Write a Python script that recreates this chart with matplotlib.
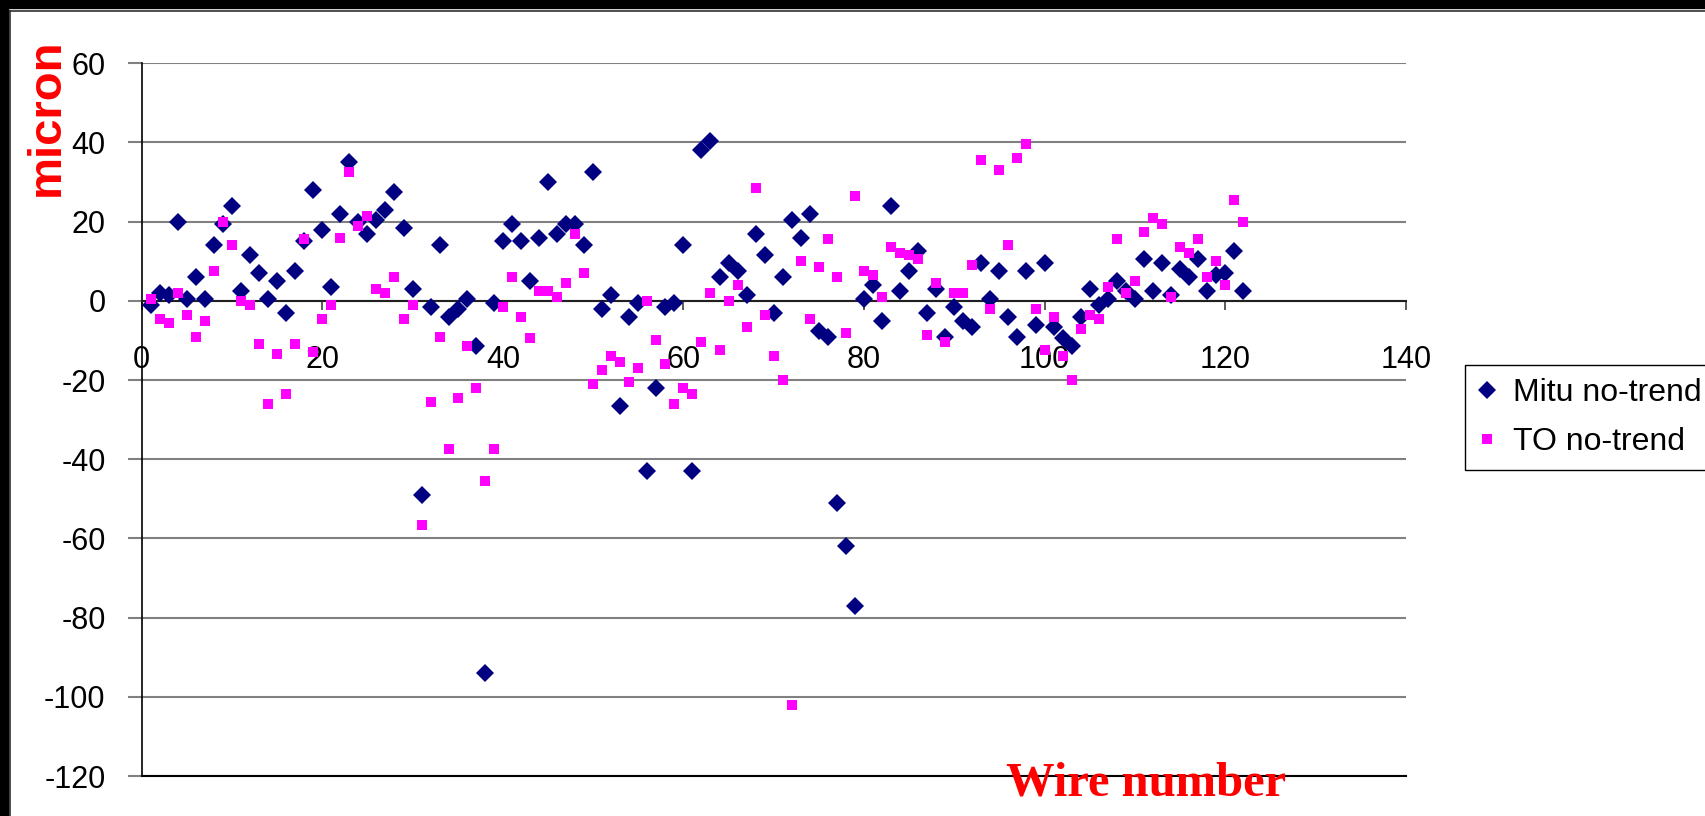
import numpy as np
import matplotlib.pyplot as plt
from matplotlib.patches import Rectangle
from matplotlib.lines import Line2D

plt.rcParams['font.family'] = ['Liberation Sans', 'DejaVu Sans']
plt.rcParams['axes.unicode_minus'] = False

# wire index and residuals (micron) after trend removal
wire = np.arange(1, 123)

mitu = [-1, 2, 1.5, 20, 0.5, 6, 0.5, 14, 19.5, 24,
        2.5, 11.5, 7, 0.5, 5, -3, 7.5, 15, 28, 18,
        3.5, 22, 35, 20, 17, 20.5, 23, 27.5, 18.5, 3,
        -49, -1.5, 14, -4, -2, 0.5, -11.5, -94, -0.5, 15,
        19.5, 15, 5, 16, 30, 17, 19.5, 19.5, 14, 32.5,
        -2, 1.5, -26.5, -4, -0.5, -43, -22, -1.5, -0.5, 14,
        -43, 38, 40.5, 6, 9.5, 7.5, 1.5, 17, 11.5, -3,
        6, 20.5, 16, 22, -7.5, -9, -51, -62, -77, 0.5,
        4, -5, 24, 2.5, 7.5, 12.5, -3, 3, -9, -1.5,
        -5, -6.5, 9.5, 0.5, 7.5, -4, -9, 7.5, -6, 9.5,
        -6.5, -9.5, -11.5, -4, 3, -1, 0.5, 5, 2.5, 0.5,
        10.5, 2.5, 9.5, 1.5, 8, 6, 10.5, 2.5, 6.5, 7,
        12.5, 2.5]

to = [0.5, -4.5, -5.5, 2, -3.5, -9, -5, 7.5, 20, 14,
      0, -1, -11, -26, -13.5, -23.5, -11, 15.5, -13, -4.5,
      -1, 16, 32.5, 19, 21.5, 3, 2, 6, -4.5, -1,
      -56.5, -25.5, -9, -37.5, -24.5, -11.5, -22, -45.5, -37.5, -1.5,
      6, -4, -9.5, 2.5, 2.5, 1, 4.5, 17, 7, -21,
      -17.5, -14, -15.5, -20.5, -17, 0, -10, -16, -26, -22,
      -23.5, -10.5, 2, -12.5, 0, 4, -6.5, 28.5, -3.5, -14,
      -20, -102, 10, -4.5, 8.5, 15.5, 6, -8, 26.5, 7.5,
      6.5, 1, 13.5, 12, 11.5, 10.5, -8.5, 4.5, -10.5, 2,
      2, 9, 35.5, -2, 33, 14, 36, 39.5, -2, -12.5,
      -4, -14, -20, -7, -3.5, -4.5, 3.5, 15.5, 2, 5,
      17.5, 21, 19.5, 1, 13.5, 12, 15.5, 6, 10, 4,
      25.5, 20]

W, H = 1706, 816
fig = plt.figure(figsize=(W / 100, H / 100), dpi=100)
ax = fig.add_axes([141.7 / W, 40 / H, 1264 / W, 712.7 / H])

ax.plot(wire, mitu, 'D', color='#000080', ms=9.5, mew=0, label='Mitu no-trend', zorder=3)
ax.plot(wire, to, 's', color='#ff00ff', ms=7.5, mew=0, label='TO no-trend', zorder=3)

ax.set_xlim(0, 140)
ax.set_ylim(-120, 60)
ax.set_xticks(range(0, 141, 20))
ax.set_yticks(range(-120, 61, 20))

ax.spines['top'].set_visible(False)
ax.spines['right'].set_visible(False)
ax.spines['bottom'].set_position(('data', 0))
ax.spines['bottom'].set_color('#202020')
ax.spines['bottom'].set_linewidth(1.5)
ax.spines['left'].set_color('black')
ax.spines['left'].set_linewidth(1.2)

ax.grid(axis='y', color='#808080', lw=1.5)
ax.set_axisbelow(True)
ax.axhline(-120, color='black', lw=1.5, clip_on=False)

ax.tick_params(axis='x', direction='out', length=6.5, width=1.2, color='#404040',
               pad=25, labelsize=22)
ax.tick_params(axis='y', direction='out', length=10, width=1.5, color='#808080',
               pad=16, labelsize=22, labelcolor='black')

leg = ax.legend(loc='upper left', bbox_to_anchor=(1465 / W, 1 - 365 / H),
                bbox_transform=fig.transFigure, frameon=True, fancybox=False,
                edgecolor='black', framealpha=1, fontsize=23, handlelength=0.6,
                handletextpad=0.5, borderpad=0.4, labelspacing=0.6, borderaxespad=0)
leg.get_frame().set_linewidth(1.0)

fig.text(47 / W, 1 - 117 / H, 'micron', rotation=90, color='red', weight='bold',
         fontsize=34, ha='center', va='center')
fig.text(1146 / W, 1 - 784 / H, 'Wire number', family='Liberation Serif', weight='bold',
         color='red', fontsize=35, ha='center', va='center')

# slide frame: black band on top and left with a thin inner rule
fig.patches.append(Rectangle((0, 1 - 8 / H), 1, 8 / H, transform=fig.transFigure,
                             color='black', zorder=5))
fig.patches.append(Rectangle((0, 0), 8 / W, 1, transform=fig.transFigure,
                             color='black', zorder=5))
fig.lines.append(Line2D([10.5 / W, 1], [1 - 10.5 / H] * 2, transform=fig.transFigure,
                        color='#303030', lw=1.2, zorder=5))
fig.lines.append(Line2D([10.5 / W] * 2, [0, 1 - 10.5 / H], transform=fig.transFigure,
                        color='#303030', lw=1.2, zorder=5))

fig.savefig('out.png', dpi=100)
